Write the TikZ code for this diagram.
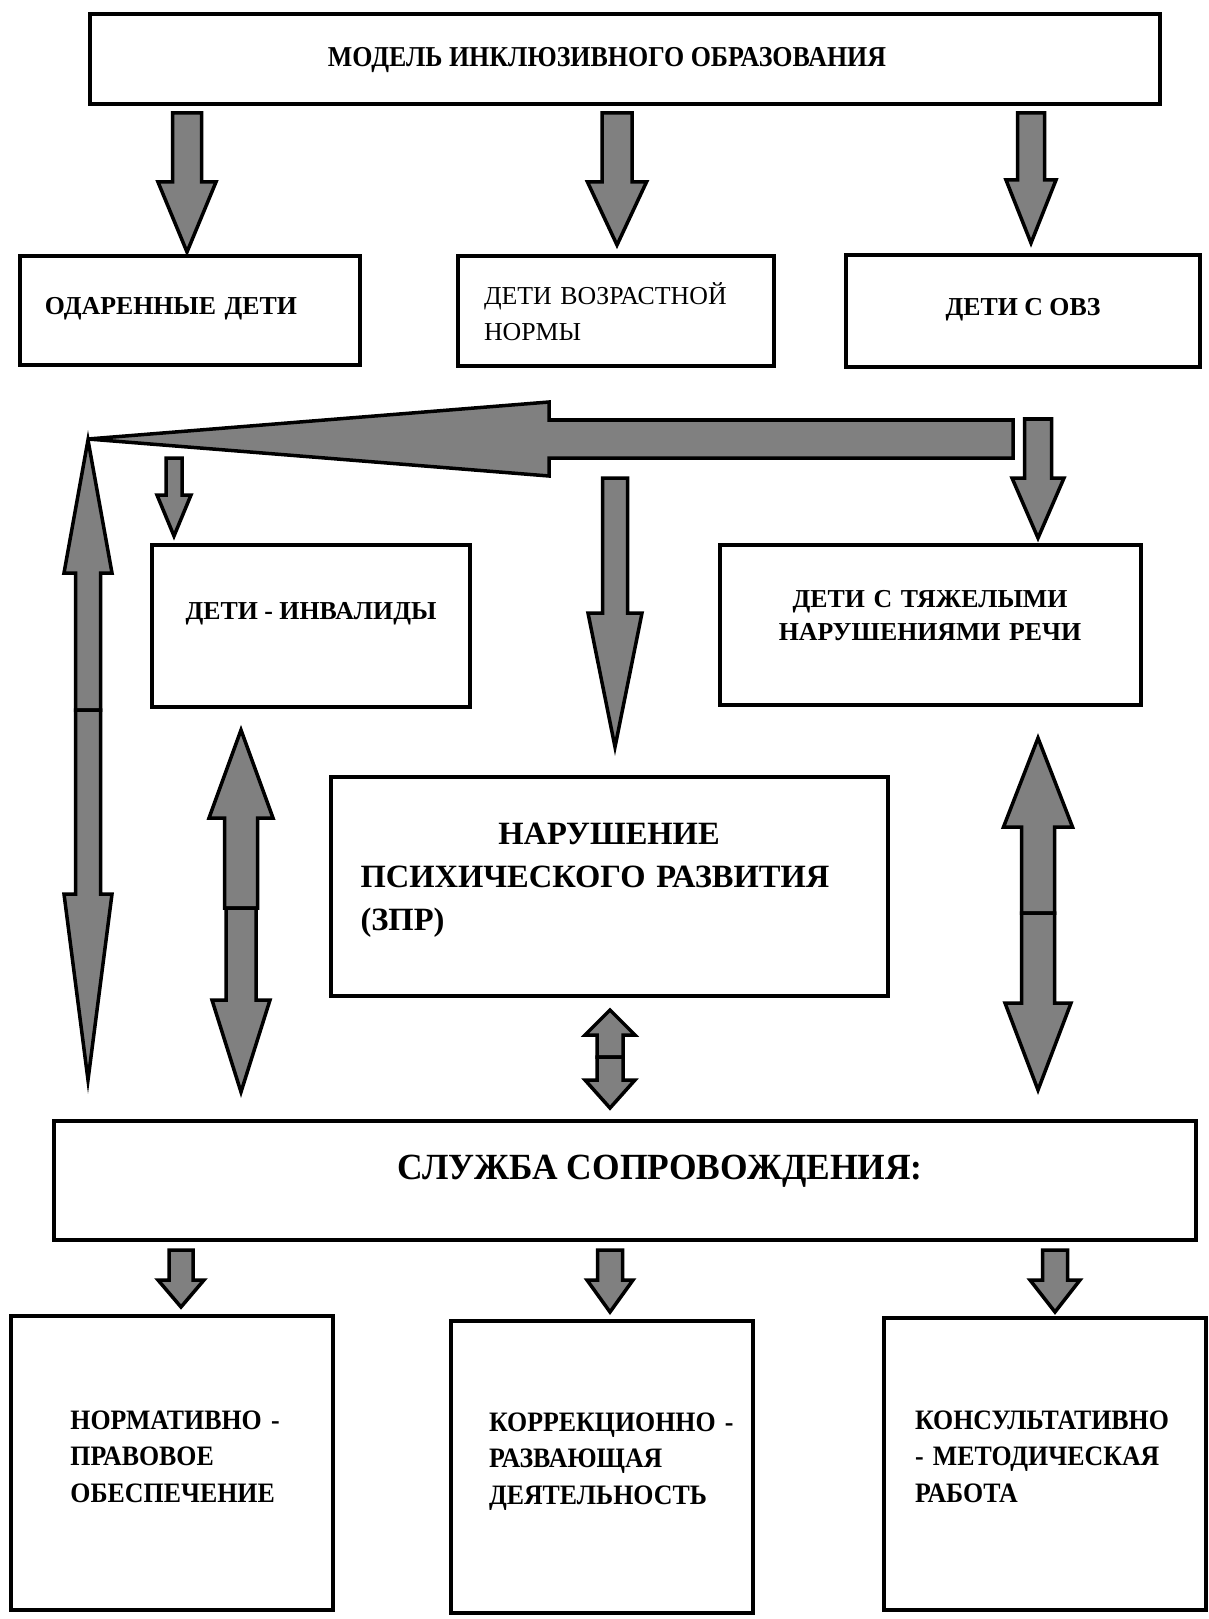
\documentclass[tikz,border=0pt]{standalone}
\usepackage{fontspec}
\setmainfont{Liberation Serif}
\usetikzlibrary{calc}

\definecolor{arrowgray}{RGB}{128,128,128}

\newlength\px
\setlength\px{0.2mm}

% size, baselineskip, horizontal stretch
\newcommand\fs[3]{\fontsize{#1}{#2}\selectfont\bfseries\addfontfeatures{FakeStretch=#3}}

% block arrow: #1 start, #2 tip, #3 half shaft, #4 half head, #5 head length (px)
\newcommand\fatarrow[5]{%
  \coordinate (fa-h) at ($(#2)!#5*\px!(#1)$);
  \filldraw[blockarrow]
    ($(#1)!#3*\px!90:(#2)$) -- ($(fa-h)!#3*\px!-90:(#1)$) -- ($(fa-h)!#4*\px!-90:(#1)$)
    -- (#2) -- ($(fa-h)!#4*\px!90:(#1)$) -- ($(fa-h)!#3*\px!90:(#1)$)
    -- ($(#1)!#3*\px!-90:(#2)$) -- cycle;}

\begin{document}
\begin{tikzpicture}[x=\px, y=-\px,
    box/.style={draw, line width=0.8mm, inner sep=0pt},
    blockarrow/.style={fill=arrowgray, draw=black, line width=0.7mm}]

  \fill[white] (0,0) rectangle (1208,1619);
  \useasboundingbox (0,0) rectangle (1208,1619);

  % boxes
  \node[box, minimum width=213.8mm, text height=10.5mm, text depth=7.5mm, font=\fs{16.4}{20}{0.9}]
    (model) at (625,59) {МОДЕЛЬ ИНКЛЮЗИВНОГО ОБРАЗОВАНИЯ\hspace*{36\px}};

  \node[box, minimum width=68mm, text height=11.7mm, text depth=10.1mm, text width=58mm,
    inner xsep=5mm, align=left, font=\fs{14.7}{18}{1}] (gifted) at (190,311) {ОДАРЕННЫЕ ДЕТИ};
  \node[box, minimum width=63.2mm, text height=9.7mm, text depth=12.3mm, text width=52.8mm,
    inner xsep=5.2mm, align=left, font=\fontsize{14.7}{20.5}\selectfont] (norm) at (616,311)
    {ДЕТИ ВОЗРАСТНОЙ\\НОРМЫ};
  \node[box, minimum width=70.8mm, text height=12.1mm, text depth=10.3mm, font=\fs{14.7}{18}{1}]
    (ovz) at (1023,311) {ДЕТИ С ОВЗ};

  \node[box, minimum width=63.6mm, text height=14.9mm, text depth=17.5mm, font=\fs{14.7}{18}{1}]
    (disabled) at (311,626) {ДЕТИ - ИНВАЛИДЫ};
  \node[box, minimum width=84.2mm, text height=12.5mm, text depth=19.5mm, text width=76.2mm,
    inner xsep=4mm, align=center, font=\fs{14.7}{18.8}{1}] (speech) at (930,625)
    {ДЕТИ С ТЯЖЕЛЫМИ\\НАРУШЕНИЯМИ РЕЧИ};

  \node[box, minimum width=111.4mm, text height=13.6mm, text depth=30.2mm, text width=99.4mm,
    inner xsep=6mm, align=left, font=\fs{18.5}{24.5}{1}] (zpr) at (609,886)
    {\makebox[\hsize]{НАРУШЕНИЕ}\\ПСИХИЧЕСКОГО РАЗВИТИЯ\\(ЗПР)};

  \node[box, minimum width=228.4mm, text height=11.8mm, text depth=12mm, font=\fs{21}{25}{0.96}]
    (service) at (625,1180) {\hspace*{70\px}СЛУЖБА СОПРОВОЖДЕНИЯ:};

  \node[box, minimum width=64.2mm, text height=22.6mm, text depth=36.2mm, text width=40.6mm,
    inner xsep=11.8mm, align=left, font=\fs{16}{21}{0.92}] (legal) at (172,1463)
    {\mbox{НОРМАТИВНО -}\\ПРАВОВОЕ\\ОБЕСПЕЧЕНИЕ};
  \node[box, minimum width=60.4mm, text height=22mm, text depth=36.4mm, text width=45.2mm,
    inner xsep=7.6mm, align=left, font=\fs{16}{21}{0.92}] (correct) at (602,1467)
    {\mbox{КОРРЕКЦИОННО -}\\РАЗВАЮЩАЯ\\ДЕЯТЕЛЬНОСТЬ};
  \node[box, minimum width=64.4mm, text height=22.2mm, text depth=36.2mm, text width=52mm,
    inner xsep=6.2mm, align=left, font=\fs{16}{21}{0.92}] (consult) at (1045,1464)
    {\mbox{КОНСУЛЬТАТИВНО}\\\mbox{- МЕТОДИЧЕСКАЯ}\\РАБОТА};

  % arrow ends
  \coordinate (a1) at (187,113);  \coordinate (a1t) at (187,252);
  \coordinate (a2) at (617,113);  \coordinate (a2t) at (617,245);
  \coordinate (a3) at (1031,113); \coordinate (a3t) at (1031,243);
  \coordinate (b) at (1013,439);  \coordinate (bt) at (88,439);
  \coordinate (c1) at (174,458);  \coordinate (c1t) at (174,536);
  \coordinate (c2) at (615,478);  \coordinate (c2t) at (615,747);
  \coordinate (c3) at (1038,419); \coordinate (c3t) at (1038,538);
  \coordinate (d1) at (88,710);   \coordinate (d1u) at (88,440);   \coordinate (d1d) at (88,1080);
  \coordinate (d2) at (241,908);  \coordinate (d2u) at (241,730);  \coordinate (d2d) at (241,1092);
  \coordinate (d3) at (610,1057); \coordinate (d3u) at (610,1010); \coordinate (d3d) at (610,1108);
  \coordinate (d4) at (1038,913); \coordinate (d4u) at (1038,738); \coordinate (d4d) at (1038,1090);
  \coordinate (e1) at (181,1250); \coordinate (e1t) at (181,1307);
  \coordinate (e2) at (610,1250); \coordinate (e2t) at (610,1312);
  \coordinate (e3) at (1055,1250); \coordinate (e3t) at (1055,1312);

  % arrows
  \fatarrow{a1}{a1t}{14.5}{29}{70}
  \fatarrow{a2}{a2t}{15}{29.5}{63}
  \fatarrow{a3}{a3t}{13.5}{25}{63}

  \fatarrow{b}{bt}{19}{37}{461}
  \fatarrow{c1}{c1t}{8}{17}{41}
  \fatarrow{c2}{c2t}{12.5}{27}{134}
  \fatarrow{c3}{c3t}{13.5}{26}{60}

  \fatarrow{d1}{d1u}{12.5}{24}{133}
  \fatarrow{d1}{d1d}{12.5}{24}{186}
  \fatarrow{d2}{d2u}{16.5}{32}{88}
  \fatarrow{d2}{d2d}{15}{29}{92}
  \fatarrow{d3}{d3u}{13}{25}{25}
  \fatarrow{d3}{d3d}{13}{25}{28}
  \fatarrow{d4}{d4u}{16.5}{34.5}{89}
  \fatarrow{d4}{d4d}{16.5}{33}{87}

  \fatarrow{e1}{e1t}{12}{23}{27}
  \fatarrow{e2}{e2t}{12.5}{23}{32}
  \fatarrow{e3}{e3t}{12.5}{25}{32}

\end{tikzpicture}
\end{document}
